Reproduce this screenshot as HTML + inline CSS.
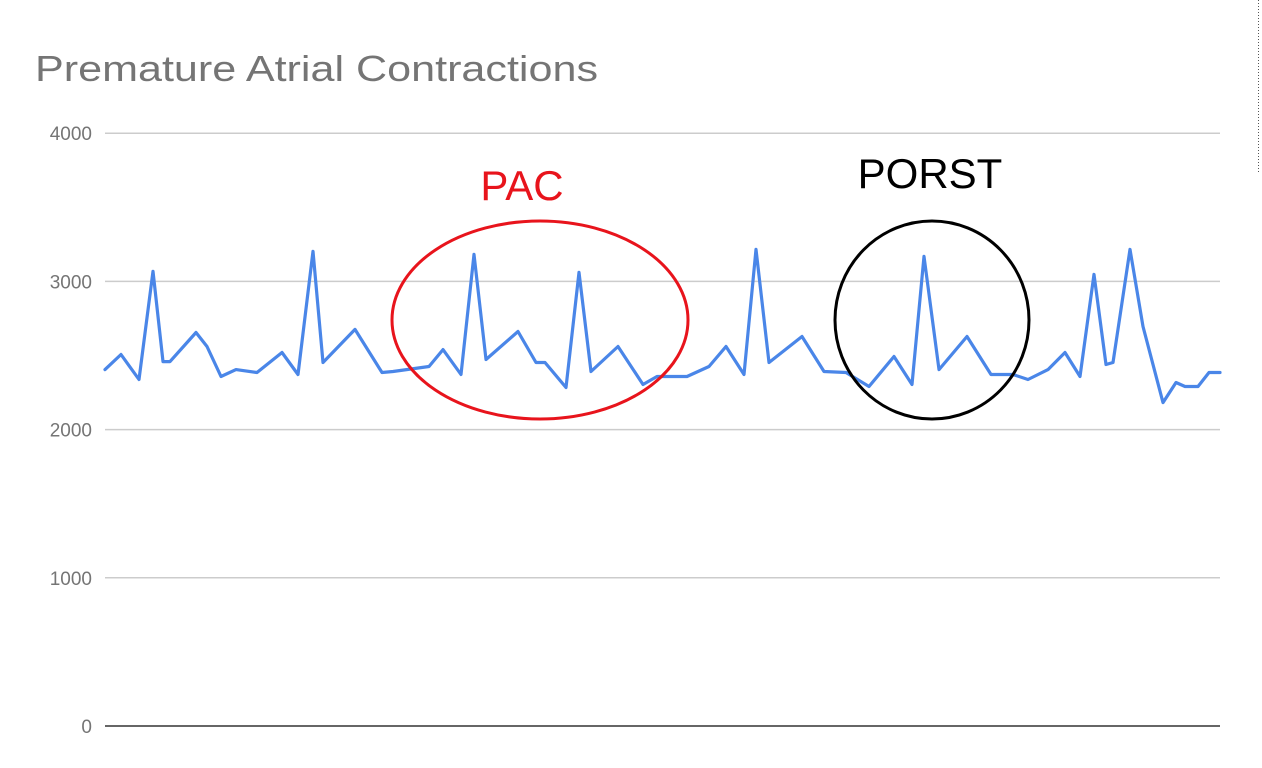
<!DOCTYPE html>
<html><head><meta charset="utf-8"><style>
html,body{margin:0;padding:0;background:#fff;}
svg{display:block;font-family:"Liberation Sans",sans-serif;}
</style></head><body>
<svg id="chart" width="1262" height="768" viewBox="0 0 1262 768">
<text x="35" y="81" font-size="36" fill="#757575" textLength="563" lengthAdjust="spacingAndGlyphs">Premature Atrial Contractions</text>
<g id="grid"></g>
<g id="yticks"></g>
<path id="series" fill="none" stroke="#4a86e8" stroke-width="3.2" stroke-linejoin="round" stroke-linecap="round"></path>
<text x="522" y="200" font-size="42" fill="#e8141c" text-anchor="middle">PAC</text>
<ellipse cx="540" cy="320" rx="148" ry="99" fill="none" stroke="#e8141c" stroke-width="3"/>
<text x="930" y="188" font-size="42" fill="#000" text-anchor="middle">PORST</text>
<ellipse cx="932" cy="320" rx="97" ry="99" fill="none" stroke="#000" stroke-width="3"/>
<line x1="1258.5" y1="0" x2="1258.5" y2="172" stroke="#555" stroke-width="1" stroke-dasharray="1,2"/>
</svg>
<script>
const yTicks = [0, 1000, 2000, 3000, 4000];
const times = [0,16,34,48,58,65,91,102,116,131,152,177,193,208,218,250,277,288,324,338,356,369,381,413,431,440,461,474,486,513,538,552,582,604,621,639,651,664,697,719,741,764,789,807,819,834,862,886,908,923,943,960,975,989,1001,1008,1025,1038,1058,1071,1080,1093,1104,1115];
const values = [2405,2507,2338,3068,2459,2459,2655,2561,2358,2405,2385,2520,2372,3203,2453,2676,2385,2392,2426,2540,2372,3182,2473,2662,2453,2453,2284,3061,2392,2561,2304,2358,2358,2426,2561,2372,3216,2453,2628,2392,2385,2291,2493,2304,3169,2405,2628,2372,2372,2338,2405,2520,2358,3047,2439,2453,3216,2696,2182,2318,2291,2291,2385,2385];
const X0=105, X1=1220, Y0=726, PXU=0.1482;
const tMax=1115;
function xs(t){return X0 + t/tMax*(X1-X0);}
function ys(v){return Y0 - v*PXU;}
const NS='http://www.w3.org/2000/svg';
const grid=document.getElementById('grid'), yt=document.getElementById('yticks');
yTicks.forEach(v=>{
  const l=document.createElementNS(NS,'line');
  l.setAttribute('x1',X0);l.setAttribute('x2',X1);
  l.setAttribute('y1',ys(v));l.setAttribute('y2',ys(v));
  l.setAttribute('stroke', v===0?'#333':'#cccccc');
  l.setAttribute('stroke-width', v===0?1.6:1.5);
  
  
  grid.appendChild(l);
  const t=document.createElementNS(NS,'text');
  t.setAttribute('x',92);t.setAttribute('y',ys(v)+7);
  t.setAttribute('text-anchor','end');t.setAttribute('font-size','19');t.setAttribute('fill','#757575');
  t.textContent=v;
  
  
  yt.appendChild(t);
});
let d='';
times.forEach((t,i)=>{d+=(i?'L':'M')+xs(t).toFixed(1)+','+ys(values[i]).toFixed(1);});
document.getElementById('series').setAttribute('d',d);
</script>
</body></html>
